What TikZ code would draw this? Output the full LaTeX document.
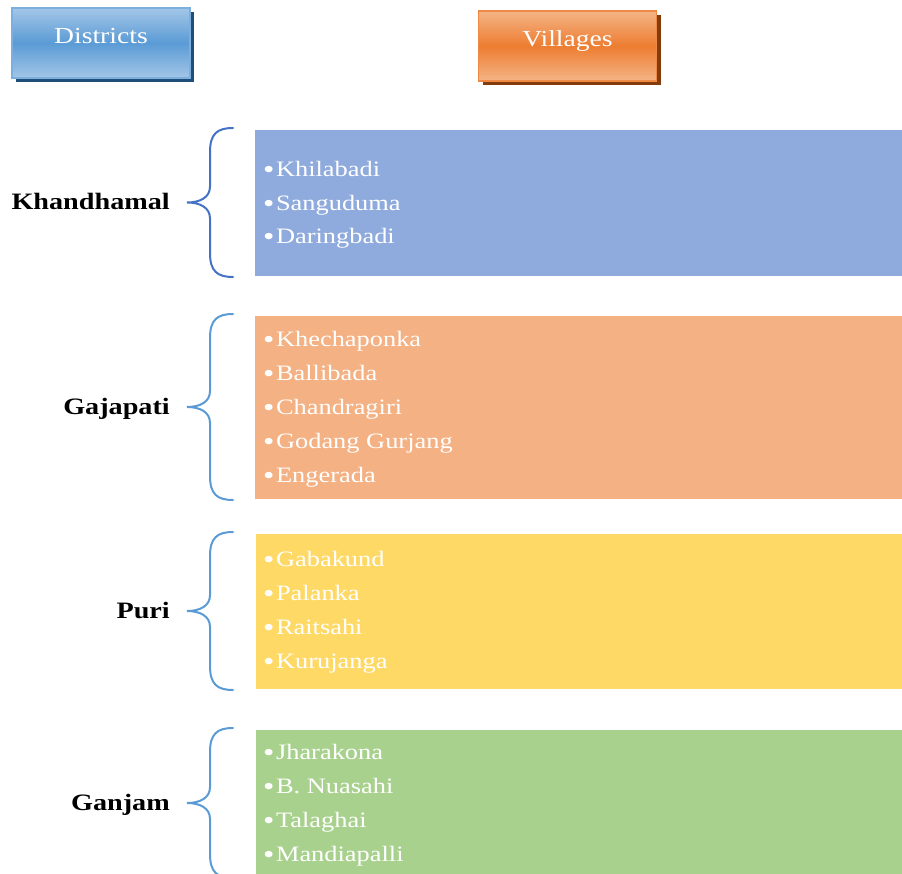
\documentclass[tikz,border=0pt]{standalone}
\usepackage{fontspec}
\setmainfont[FakeStretch=1.2]{Liberation Serif}
\usetikzlibrary{shadows}

\definecolor{hdrblue}{HTML}{5B9BD5}
\definecolor{hdrbluelight}{HTML}{A3C6E8}
\definecolor{hdrblueshadow}{HTML}{1F4E79}
\definecolor{hdrorange}{HTML}{ED7D31}
\definecolor{hdrorangelight}{HTML}{F4B486}
\definecolor{hdrorangeshadow}{HTML}{843C0C}
\definecolor{rowblue}{HTML}{8FAADC}
\definecolor{roworange}{HTML}{F4B183}
\definecolor{rowyellow}{HTML}{FFD966}
\definecolor{rowgreen}{HTML}{A9D18E}
\definecolor{bracedark}{HTML}{4472C4}
\definecolor{bracelight}{HTML}{5B9BD5}

% list bullet, a little larger than the text bullet
\newcommand\listdot{\raisebox{-1.6pt}{\fontsize{27}{27}\selectfont\textbullet}\kern1.5pt}

\tikzset{
  header/.style={rectangle, minimum width=178pt, minimum height=70pt,
    text=white, font=\fontsize{23}{27}\selectfont, line width=1.5pt,
    text height=10pt, text depth=8pt},
  rowbox/.style={rectangle, anchor=north west, minimum width=647pt, inner sep=0pt},
  item/.style={anchor=base west, inner sep=0pt, text=white,
    font=\fontsize{22}{26}\selectfont},
  district/.style={anchor=base east, inner sep=0pt,
    font=\fontsize{23.5}{27}\selectfont\bfseries},
  bracestyle/.style={line width=2pt, line cap=round}
}

% curly brace opening to the right: top y, bottom y, colour
\newcommand\rowbrace[3]{%
  \draw[bracestyle,#3] (233,#1)
    .. controls (217,#1) and (210,{#1+6}) .. (210,{#1+24})
    -- (210,{(#1+#2)/2-16})
    .. controls (210,{(#1+#2)/2-5}) and (200,{(#1+#2)/2}) .. (187,{(#1+#2)/2})
    .. controls (200,{(#1+#2)/2}) and (210,{(#1+#2)/2+5}) .. (210,{(#1+#2)/2+16})
    -- (210,{#2-24})
    .. controls (210,{#2-6}) and (217,#2) .. (233,#2);}

\begin{document}
\begin{tikzpicture}[x=1pt,y=-1pt]
\useasboundingbox (0,0) rectangle (902,874);

% column headers
\node[header, draw=hdrblue!80!white, top color=hdrbluelight, bottom color=hdrbluelight,
  middle color=hdrblue,
  drop shadow={shadow xshift=4pt, shadow yshift=-4pt, fill=hdrblueshadow, opacity=1}]
  (districts) at (101,43) {Districts};
\node[header, draw=hdrorange!90!white, top color=hdrorangelight, bottom color=hdrorangelight,
  middle color=hdrorange,
  drop shadow={shadow xshift=4pt, shadow yshift=-4pt, fill=hdrorangeshadow, opacity=1}]
  (villages) at (567.5,46) {Villages};

% village boxes
\node[rowbox, fill=rowblue,   minimum height=146pt] (khbox) at (255,130) {};
\node[rowbox, fill=roworange, minimum height=183pt] (gjbox) at (255,316) {};
\node[rowbox, fill=rowyellow, minimum height=155pt] (pubox) at (256,534) {};
\node[rowbox, fill=rowgreen,  minimum height=150pt] (gnbox) at (256,730) {};

% braces
\rowbrace{128}{277}{bracedark}
\rowbrace{314}{500}{bracelight}
\rowbrace{532}{690}{bracelight}
\rowbrace{728}{878}{bracelight}

% district names
\node[district] (kh) at (170,210) {Khandhamal};
\node[district] (gj) at (170,414) {Gajapati};
\node[district] (pu) at (170,618) {Puri};
\node[district] (gn) at (170,810) {Ganjam};

% village lists
\foreach \v [count=\i] in {Khilabadi,Sanguduma,Daringbadi}
  \node[item] (kh\i) at (263,{177+33.5*(\i-1)}) {\listdot\v};
\foreach \v [count=\i] in {Khechaponka,Ballibada,Chandragiri,Godang Gurjang,Engerada}
  \node[item] (gj\i) at (263,{346.5+34*(\i-1)}) {\listdot\v};
\foreach \v [count=\i] in {Gabakund,Palanka,Raitsahi,Kurujanga}
  \node[item] (pu\i) at (263,{566.5+34*(\i-1)}) {\listdot\v};
\foreach \v [count=\i] in {Jharakona,B. Nuasahi,Talaghai,Mandiapalli}
  \node[item] (gn\i) at (263,{759.5+34*(\i-1)}) {\listdot\v};
\end{tikzpicture}
\end{document}
